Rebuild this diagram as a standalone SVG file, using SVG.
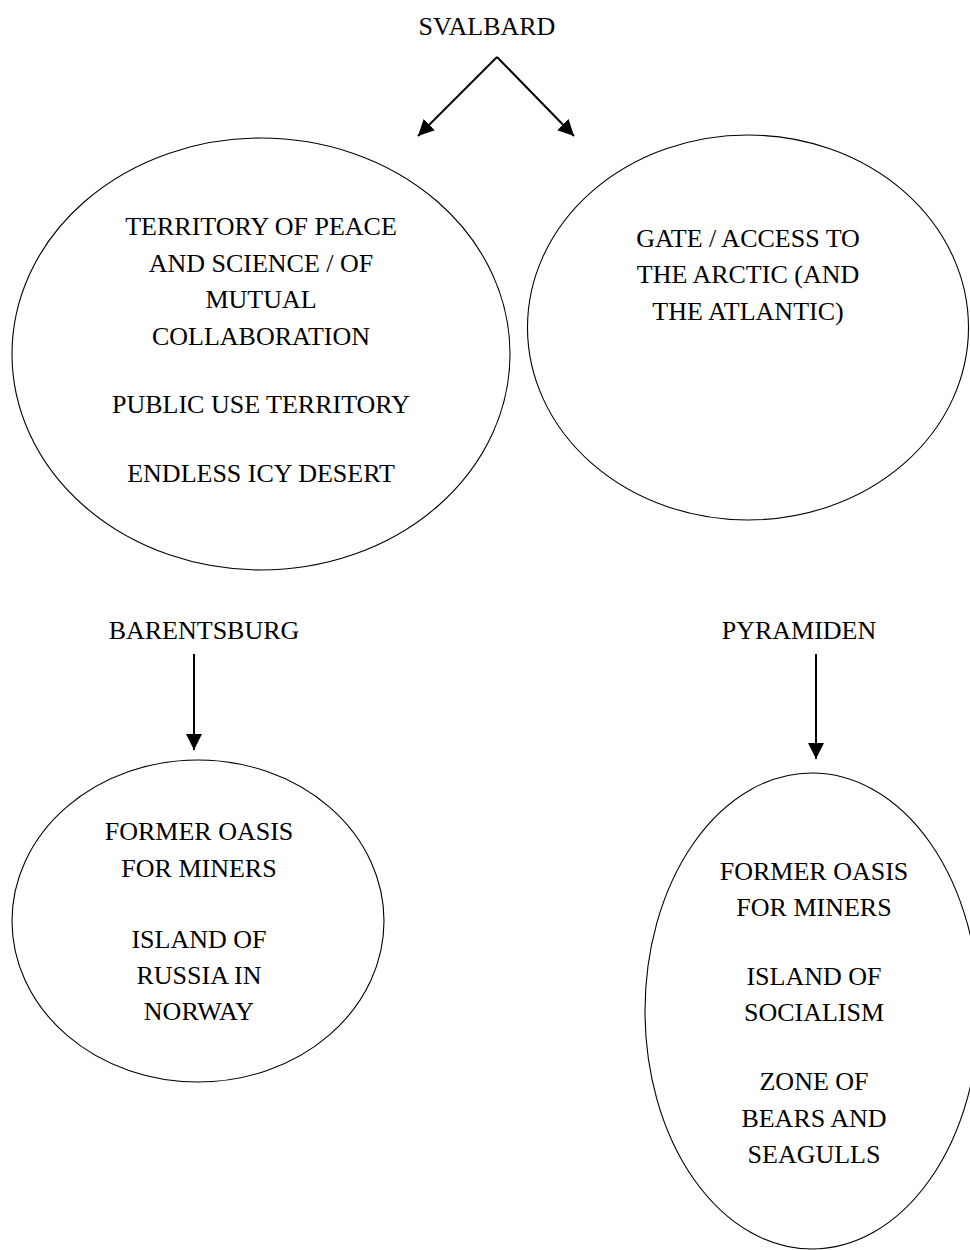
<svg xmlns="http://www.w3.org/2000/svg" width="970" height="1250" viewBox="0 0 970 1250">
  <style>
    text { font-family: 'Liberation Serif', Tinos, 'Times New Roman', Times, 'DejaVu Serif', serif; font-size: 26px; fill: #000; text-anchor: middle; }
    .node ellipse { fill: none; stroke: #000; stroke-width: 1.1; }
    .conn line { stroke: #000; stroke-width: 2; }
  </style>
  <defs>
    <marker id="head" viewBox="0 0 16 16" refX="16" refY="8" markerWidth="16" markerHeight="16" markerUnits="userSpaceOnUse" orient="auto">
      <path d="M0,0 L16,8 L0,16 z" fill="#000"/>
    </marker>
  </defs>

  <!-- arrows -->
  <g id="connectors" class="conn">
    <line x1="497" y1="57" x2="418" y2="136" marker-end="url(#head)"/>
    <line x1="497" y1="57" x2="574" y2="136" marker-end="url(#head)"/>
    <line x1="194" y1="654" x2="194" y2="750" marker-end="url(#head)"/>
    <line x1="816" y1="654" x2="816" y2="759" marker-end="url(#head)"/>
  </g>

  <g id="svalbard">
    <text x="487" y="35">SVALBARD</text>
  </g>

  <g id="peace" class="node">
    <ellipse cx="261" cy="354" rx="249" ry="216"/>
    <text x="261" y="235">TERRITORY OF PEACE</text>
    <text x="261" y="272">AND SCIENCE / OF</text>
    <text x="261" y="308">MUTUAL</text>
    <text x="261" y="345">COLLABORATION</text>
    <text x="261" y="413">PUBLIC USE TERRITORY</text>
    <text x="261" y="482">ENDLESS ICY DESERT</text>
  </g>

  <g id="gate" class="node">
    <ellipse cx="748" cy="327.5" rx="220.5" ry="192.5"/>
    <text x="748" y="247">GATE / ACCESS TO</text>
    <text x="748" y="283">THE ARCTIC (AND</text>
    <text x="748" y="320">THE ATLANTIC)</text>
  </g>

  <g id="barentsburg">
    <text x="204" y="639">BARENTSBURG</text>
  </g>

  <g id="pyramiden">
    <text x="799" y="639">PYRAMIDEN</text>
  </g>

  <g id="barentsburg-traits" class="node">
    <ellipse cx="198" cy="921" rx="186" ry="161"/>
    <text x="199" y="840">FORMER OASIS</text>
    <text x="199" y="877">FOR MINERS</text>
    <text x="199" y="948">ISLAND OF</text>
    <text x="199" y="984">RUSSIA IN</text>
    <text x="199" y="1020">NORWAY</text>
  </g>

  <g id="pyramiden-traits" class="node">
    <ellipse cx="812" cy="1011" rx="167" ry="238"/>
    <text x="814" y="880">FORMER OASIS</text>
    <text x="814" y="916">FOR MINERS</text>
    <text x="814" y="985">ISLAND OF</text>
    <text x="814" y="1021">SOCIALISM</text>
    <text x="814" y="1090">ZONE OF</text>
    <text x="814" y="1127">BEARS AND</text>
    <text x="814" y="1163">SEAGULLS</text>
  </g>
</svg>
